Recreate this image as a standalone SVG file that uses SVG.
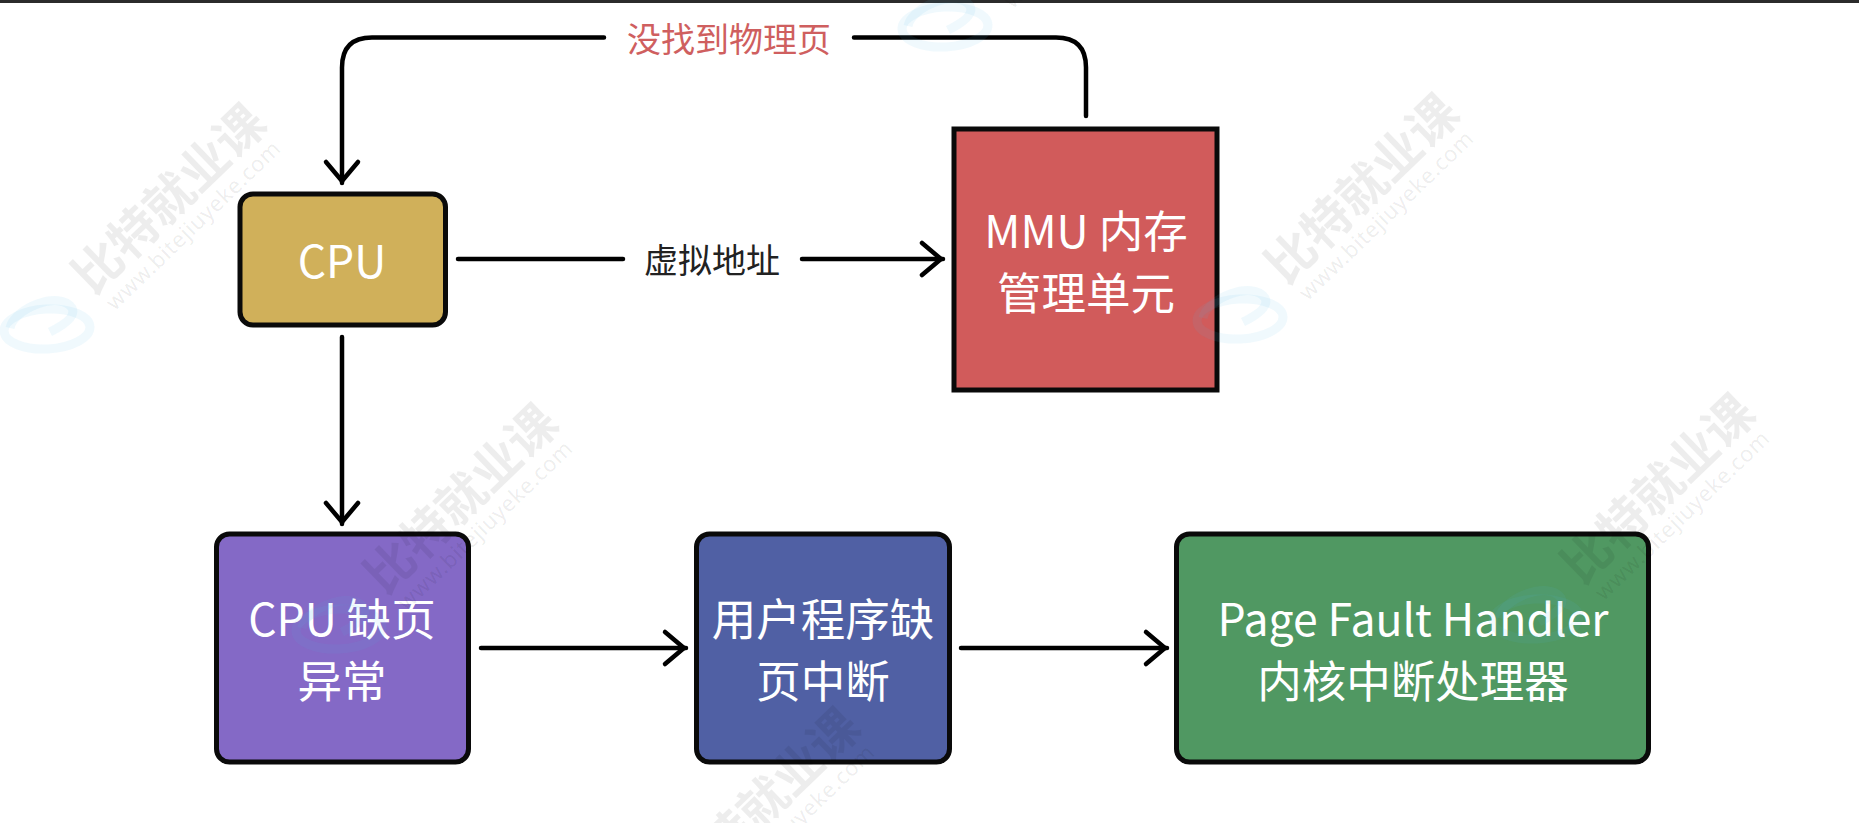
<svg xmlns="http://www.w3.org/2000/svg" width="1859" height="823" viewBox="0 0 1859 823">
<style>
.n{stroke:#0a0a0a;stroke-width:5}
.t{font-family:"Noto Sans CJK SC","Noto Sans",sans-serif;font-size:44.5px;fill:#fff;text-anchor:middle}
.l{font-family:"Noto Sans CJK SC","Noto Sans",sans-serif;font-size:34px;text-anchor:middle}
.c{fill:none;stroke:#000;stroke-width:4.5;stroke-linecap:round;stroke-linejoin:round}
.wc{font-family:"Noto Sans CJK SC",sans-serif;font-size:49px;font-weight:700;fill:#000;fill-opacity:.07;text-anchor:middle}
.wu{font-family:"Noto Sans",sans-serif;font-size:22px;fill:#000;fill-opacity:.08;text-anchor:middle;letter-spacing:.7px}
.wl{fill:none;stroke:#52b4e4;stroke-opacity:.085;stroke-width:9}
</style>
<defs>
<g id="wm">
<text class="wc" transform="rotate(-44)" y="16">比特就业课</text>
<text class="wu" transform="translate(23,25) rotate(-44)" y="8">www.bitejiuyeke.com</text>
<ellipse class="wl" cx="-123" cy="129" rx="43" ry="20" transform="rotate(-3 -123 129)"/>
<path class="wl" d="M-160 128C-156 108-110 90-98 108C-94 116-104 124-120 132"/>
</g>
<marker id="a" markerUnits="userSpaceOnUse" markerWidth="44" markerHeight="44" refX="26" refY="22" orient="auto"><path d="M5 6L24 22L5 38" fill="none" stroke="#000" stroke-width="4.5" stroke-linecap="round" stroke-linejoin="round"/></marker>
</defs>
<rect id="backdrop" width="1859" height="823" fill="#2b2b2b"/>
<rect id="sheet" x="0" y="3" width="1859" height="835" rx="14" fill="#fff"/>
<rect x="0" y="3" width="1859" height="60" fill="#fff"/>
<g id="connectors">
<path class="c" d="M604 37.500H372Q342 37.500 342 67.500V183" marker-end="url(#a)"/>
<path class="c" d="M854 37.500H1056Q1086 37.500 1086 67.500V116"/>
<path class="c" d="M458 259H623"/>
<path class="c" d="M802 259H943" marker-end="url(#a)"/>
<path class="c" d="M342 337V524" marker-end="url(#a)"/>
<path class="c" d="M481 648H686" marker-end="url(#a)"/>
<path class="c" d="M961 648H1167" marker-end="url(#a)"/>
</g>
<g id="label-miss"><text class="l" x="729" y="52" fill="#cf5f5f">没找到物理页</text></g>
<g id="label-vaddr"><text class="l" x="712" y="273" fill="#222">虚拟地址</text></g>
<g id="cpu"><rect class="n" x="240" y="194" width="205.500" height="131" rx="13" fill="#d0b05a"/><text class="t" x="342" y="278">CPU</text></g>
<g id="mmu"><rect class="n" x="954" y="129" width="263" height="261" fill="#d15b5b"/><text class="t" x="1086" y="248">MMU 内存</text><text class="t" x="1086" y="310">管理单元</text></g>
<g id="cpu-fault"><rect class="n" x="216.500" y="534" width="252" height="228" rx="13" fill="#8469c6"/><text class="t" x="342" y="636">CPU 缺页</text><text class="t" x="342" y="698">异常</text></g>
<g id="user-fault"><rect class="n" x="696.500" y="534" width="253" height="228" rx="13" fill="#5060a4"/><text class="t" x="823" y="636">用户程序缺</text><text class="t" x="823" y="698">页中断</text></g>
<g id="handler"><rect class="n" x="1176.500" y="534" width="472" height="228" rx="13" fill="#509862"/><text class="t" x="1413" y="636">Page Fault Handler</text><text class="t" x="1413" y="698">内核中断处理器</text></g>
<g id="watermark">
<use href="#wm" x="170" y="200"/>
<use href="#wm" x="462" y="500"/>
<use href="#wm" x="764" y="804"/>
<use href="#wm" x="1363" y="190"/>
<use href="#wm" x="1659" y="490"/>
<use href="#wm" x="1068" y="-102"/>
</g>
</svg>
